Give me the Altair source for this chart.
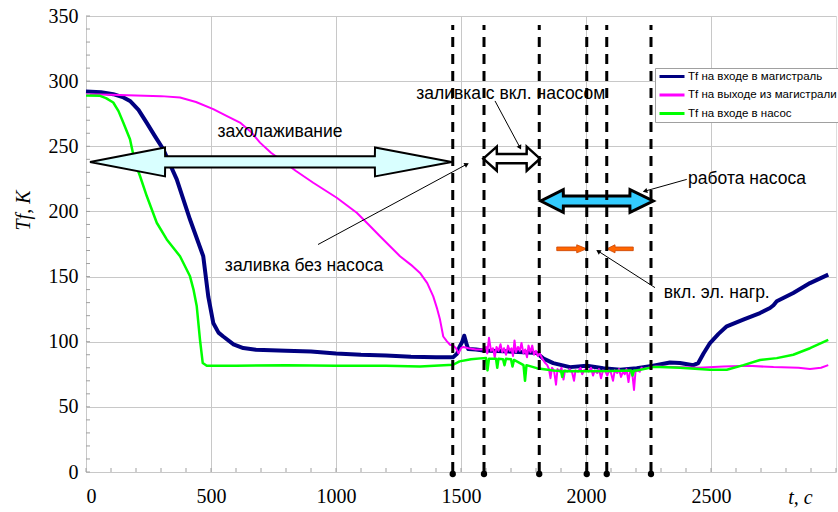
import math
import altair as alt
import pandas as pd

# ---------------- series names ----------------
S1 = "Tf на входе в магистраль"
S2 = "Tf на выходе из магистрали"
S3 = "Tf на входе в насос"
SERIES = [S1, S2, S3]
COLORS = ["#000080", "#ff00ff", "#00ff00"]

# ---------------- data ----------------
t_in = [0, 60, 109, 150, 176, 210, 243, 275, 309, 363, 416, 469, 489, 509, 530, 549, 590, 629,
        680, 800, 900, 1000, 1100, 1200, 1300, 1400, 1468, 1485, 1494, 1505, 1513, 1521, 1529,
        1560, 1589, 1669, 1750, 1803, 1830, 1869, 1936, 2003, 2069, 2136, 2203, 2269, 2336,
        2376, 2429, 2449, 2470, 2496, 2530, 2563, 2629, 2696, 2736, 2750, 2763, 2829, 2896, 2969]
T_in = [292, 291.5, 290, 287.5, 284.8, 278, 268, 258, 247.7, 224.6, 193.8, 165.6, 134.8, 114.4,
        107, 104, 98, 95.1, 93.8, 93, 92.5, 91, 90, 89.5, 88.5, 88, 88, 91, 96, 100, 104.6, 99,
        94.4, 94, 93.3, 92.6, 92, 91.3, 87, 83.6, 80.5, 81.5, 79.7, 78.5, 79.7, 81.5, 84.1,
        83.6, 82, 83.6, 91, 99, 106, 111.8, 117, 122, 125.9, 128, 131, 137.4, 145, 151.5]

t_out = [0, 100, 200, 300, 376, 440, 509, 560, 616, 660, 696, 740, 776, 840, 909, 1003, 1083,
         1130, 1176, 1256, 1300, 1336, 1365, 1389, 1405, 1416, 1429, 1443, 1456, 1469, 1480,
         1490, 1500, 1509, 1530, 1560, 1590, 1600, 1605, 1612, 1620, 1628, 1635, 1642, 1650,
         1658, 1665, 1672, 1680, 1688, 1695, 1702, 1708, 1714, 1720, 1728, 1735, 1742, 1750,
         1757, 1764, 1770, 1778, 1785, 1792, 1800, 1808, 1815, 1825, 1835, 1845, 1852, 1858,
         1864, 1872, 1880, 1886, 1895, 1902, 1910, 1916, 1925, 1935, 1945, 1952, 1958, 1968,
         1978, 1985, 1992, 2000, 2010, 2020, 2028, 2035, 2045, 2052, 2060, 2068, 2078, 2085,
         2092, 2100, 2108, 2115, 2125, 2132, 2140, 2148, 2155, 2162, 2170, 2176, 2185, 2192,
         2198, 2205, 2215, 2222, 2230, 2250, 2280, 2350, 2450, 2550, 2650, 2750, 2850, 2896,
         2940, 2969]
T_out = [290, 289.5, 289, 288.5, 287.4, 284, 278.5, 273.5, 268.2, 261, 252.8, 245, 240, 231,
         222, 210.5, 199, 190, 181, 165.6, 159, 152.8, 145, 134.8, 125, 117, 104, 100.5, 97.7,
         97, 95, 91, 95, 96, 95, 94, 94, 96, 91, 103, 93, 95, 88, 96, 93, 98, 92, 95, 90, 97,
         93, 95, 89, 101, 92, 96, 93, 99, 91, 94, 88, 97, 92, 97, 90, 93, 89, 91, 87, 84, 82,
         79, 72, 80, 78, 67, 79, 77, 80, 71, 78, 77, 79, 76, 70, 78, 77, 80, 75, 78, 79, 77,
         80, 74, 78, 76, 79, 72, 78, 77, 74, 78, 76, 70, 78, 76, 79, 73, 77, 75, 79, 69, 77,
         76, 63, 77, 78, 77, 80, 79, 80, 81, 80.5, 80, 81, 81.5, 80.5, 80, 79, 80, 82]

t_pump = [0, 56, 80, 109, 130, 149, 176, 196, 216, 243, 283, 323, 376, 416, 430, 443, 456, 467,
          483, 600, 800, 1000, 1200, 1336, 1469, 1494, 1540, 1589, 1600, 1606, 1612, 1640,
          1645, 1650, 1668, 1674, 1680, 1700, 1706, 1712, 1736, 1750, 1756, 1762, 1803, 1869,
          1900, 1905, 1910, 2003, 2100, 2180, 2186, 2192, 2203, 2269, 2296, 2376, 2496, 2563,
          2630, 2696, 2763, 2829, 2896, 2969]
T_pump = [289, 288.7, 287, 283.6, 277, 268.2, 255.4, 237.4, 227.2, 211.8, 191.3, 178.5, 165.6,
          150.2, 140, 127.2, 101.5, 83.6, 81.5, 81.5, 82, 81.5, 81.5, 81, 82.3, 84.9, 86.5,
          87.4, 87.5, 78, 87, 87, 80, 87, 86.5, 82, 87, 86.5, 81, 86, 83.6, 82, 70, 82, 79.7,
          77.9, 77.5, 73, 77.5, 77.3, 77.5, 78, 74, 78, 77.9, 80.5, 80.5, 80, 78.5, 78.5, 82,
          86, 87.4, 90, 95, 101.5]

# event times (vertical dashed lines)
events = [1467, 1592, 1813, 2003, 2083, 2260]

# text annotations
note_text = ["захолаживание", "заливка без насоса", "заливка с вкл. насосом",
             "работа насоса", "вкл. эл. нагр."]
note_t = [776, 872, 1699, 2644, 2523]
note_T = [261, 158, 290, 225, 137.5]

# thin pointer arrows (start -> end)
ptr_t1 = [928, 1636, 2403, 2276]
ptr_T1 = [174.6, 284.8, 224.6, 141.5]
ptr_t2 = [1523, 1736, 2236, 2049]
ptr_T2 = [236.2, 249, 215.6, 169.5]

# block arrows: tips, head bases, centre, shaft & head half heights
cool_arrow = dict(tip1=16, base1=316, base2=1156, tip2=1463, c=238, s=4.3, h=11.1)
fill_arrow = dict(tip1=1589, base1=1643, base2=1763, tip2=1816, c=240.5, s=3.5, h=9.2)
pump_arrow = dict(tip1=1819, base1=1909, base2=2176, tip2=2269, c=208, s=3.9, h=8.7)
heat_left = dict(tail=1883, base=1963, tip=2003, c=171.3, s=1.4, h=3.1)
heat_right = dict(tail=2189, base=2116, tip=2083, c=171.3, s=1.4, h=3.1)

x_ticks = [0, 500, 1000, 1500, 2000, 2500]
y_ticks = [0, 50, 100, 150, 200, 250, 300, 350]
y_minor = list(range(0, 351, 10))
x_minor = list(range(0, 3001, 100))

# ---------------- chart geometry ----------------
W, H = 750, 456
XMAX, YMAX = 3000, 350
PX_T = W / XMAX
PX_Y = H / YMAX
EPS = 0.5

AX_STYLE = dict(labelFont="Liberation Serif", labelFontSize=20, labelColor="black",
                titleFont="Liberation Serif", titleFontSize=20, titleColor="black",
                titleFontStyle="italic", titleFontWeight="normal", format="d",
                grid=True, gridColor="#c8c8c8", gridWidth=1, ticks=False, domain=False)

X = alt.X("t:Q", scale=alt.Scale(domain=[0, XMAX], nice=False, zero=False),
          axis=alt.Axis(values=x_ticks, title="t, c", labelPadding=14, titleX=714,
                        titleY=25, titleBaseline="middle", titleAlign="center", **AX_STYLE))
Y = alt.Y("T:Q", scale=alt.Scale(domain=[0, YMAX], nice=False),
          axis=alt.Axis(values=y_ticks, title="Tf, K", labelPadding=8, titleX=-63,
                        titleY=194, titleAngle=270, titleBaseline="middle",
                        titleAlign="center", **AX_STYLE))

color = alt.Color("s:N", scale=alt.Scale(domain=SERIES, range=COLORS),
                  legend=alt.Legend(title=None, orient="none", legendX=569, legendY=52,
                                    symbolType="stroke", symbolSize=625, symbolStrokeWidth=3,
                                    labelFont="Liberation Sans", labelFontSize=11.5,
                                    labelColor="black", labelLimit=400, labelOffset=2,
                                    clipHeight=11, padding=3, rowPadding=6.5,
                                    fillColor="white", strokeColor="#a0a0a0"))


def series_df(name, t, T):
    return pd.DataFrame({"t": t, "T": T, "s": name})


def line_layer(df, width):
    return alt.Chart(df).mark_line(strokeWidth=width, strokeJoin="round").encode(
        x=X, y=Y, color=color)


def double_arrow(a):
    c, s, h = a["c"], a["s"], a["h"]
    return pd.DataFrame({
        "t": [a["tip1"], a["base1"], a["base1"] + EPS, a["base2"] - EPS, a["base2"], a["tip2"]],
        "T": [c, c - h, c - s, c - s, c - h, c],
        "T2": [c, c + h, c + s, c + s, c + h, c],
    })


def single_arrow(a):
    c, s, h = a["c"], a["s"], a["h"]
    step = EPS if a["tail"] > a["tip"] else -EPS
    return pd.DataFrame({
        "t": [a["tip"], a["base"], a["base"] + step, a["tail"]],
        "T": [c, c - h, c - s, c - s],
        "T2": [c, c + h, c + s, c + s],
    })


def area_layer(df, fill, stroke, sw):
    return alt.Chart(df).mark_area(fill=fill, stroke=stroke, strokeWidth=sw,
                                   strokeJoin="miter", opacity=1).encode(
        x=alt.X("t:Q"), y=alt.Y("T:Q"), y2="T2:Q")


lines = [
    line_layer(series_df(S1, t_in, T_in), 4),
    line_layer(series_df(S2, t_out, T_out), 2),
    line_layer(series_df(S3, t_pump, T_pump), 2.5),
]

minor_y = alt.Chart(pd.DataFrame({"T": y_minor})).mark_rule(color="#a0a0a0", strokeWidth=1).encode(
    y=alt.Y("T:Q"), x=alt.value(0), x2=alt.value(4))
minor_x = alt.Chart(pd.DataFrame({"t": x_minor})).mark_rule(color="#a0a0a0", strokeWidth=1).encode(
    x=alt.X("t:Q"), y=alt.value(H), y2=alt.value(H - 4))

arrows = [
    area_layer(double_arrow(cool_arrow), "#d9ffff", "black", 2),
    area_layer(double_arrow(fill_arrow), "white", "black", 2.5),
    area_layer(double_arrow(pump_arrow), "#33ccff", "black", 3),
    area_layer(single_arrow(heat_left), "#ff6600", "#cc4400", 0.8),
    area_layer(single_arrow(heat_right), "#ff6600", "#cc4400", 0.8),
]

ptr_df = pd.DataFrame({"t": ptr_t1, "T": ptr_T1, "t2": ptr_t2, "T2": ptr_T2})
ptr_df["ang"] = [
    math.degrees(math.atan2((b - a) * PX_T, (d - c) * PX_Y)) % 360
    for a, b, c, d in zip(ptr_t1, ptr_t2, ptr_T1, ptr_T2)
]
ptr_lines = alt.Chart(ptr_df).mark_rule(color="black", strokeWidth=1).encode(
    x=alt.X("t:Q"), y=alt.Y("T:Q"), x2="t2:Q", y2="T2:Q")
ptr_heads = alt.Chart(ptr_df).mark_point(shape="triangle-up", filled=True, color="black",
                                         size=28, opacity=1).encode(
    x=alt.X("t2:Q"), y=alt.Y("T2:Q"), angle=alt.Angle("ang:Q", scale=None))

notes = alt.Chart(pd.DataFrame({"txt": note_text, "t": note_t, "T": note_T})).mark_text(
    font="Liberation Sans", fontSize=17.5, color="black", baseline="middle", align="center").encode(
    x=alt.X("t:Q"), y=alt.Y("T:Q"), text="txt:N")

ev_df = pd.DataFrame({"t": events, "T": [0] * len(events), "T2": [343] * len(events)})
ev_lines = alt.Chart(ev_df).mark_rule(color="black", strokeWidth=3, strokeDash=[10, 7]).encode(
    x=alt.X("t:Q"), y=alt.Y("T:Q"), y2="T2:Q")
ev_dots = alt.Chart(ev_df).mark_circle(color="black", size=40, opacity=1, clip=False,
                                       yOffset=2).encode(x=alt.X("t:Q"), y=alt.Y("T:Q"))

chart = alt.layer(
    *lines, minor_y, minor_x, *arrows, notes, ptr_lines, ptr_heads, ev_lines, ev_dots
).properties(
    width=W, height=H,
    padding={"left": 86, "top": 16, "right": 2, "bottom": 40},
    autosize=alt.AutoSizeParams(type="none"),
).configure_view(
    stroke="#909090", strokeWidth=1
).configure(background="white")

chart.save("out.html", embed_options={"renderer": "svg", "actions": False})
